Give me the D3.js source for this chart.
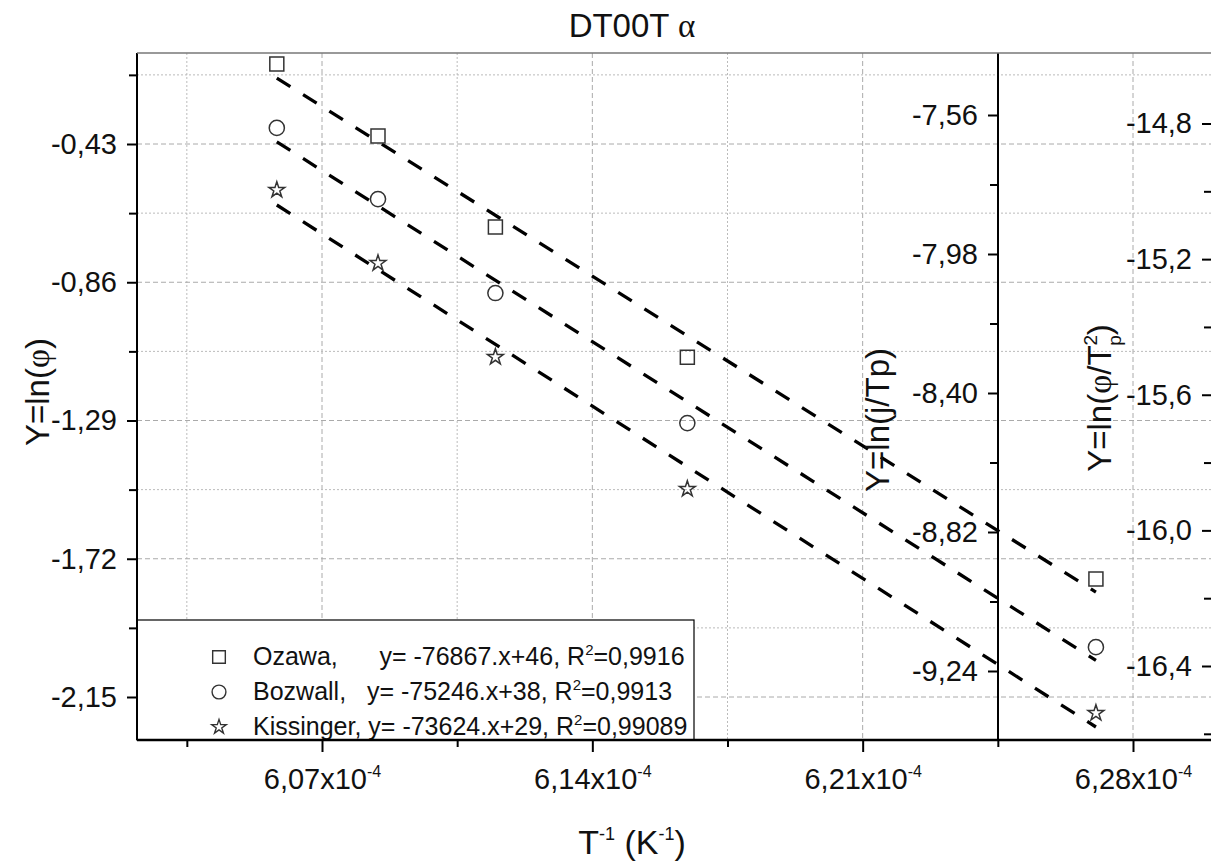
<!DOCTYPE html>
<html>
<head>
<meta charset="utf-8">
<script src="https://cdn.jsdelivr.net/npm/d3@7"></script>
<style>
  body { margin: 0; background: #fff; }
  text { font-family: "Liberation Sans", Arial, sans-serif; fill: #111; }
</style>
</head>
<body>
<div id="chart"></div>
<script>
// 데이터: x = 1/T, 세 가지 방법별 Y 값
var invT = [6.0583e-4, 6.0845e-4, 6.1149e-4, 6.1646e-4, 6.2704e-4];
var ozawa = [-0.181, -0.405, -0.688, -1.093, -1.783];        // ln(phi)
var bozwall = [-7.599, -7.814, -8.098, -8.491, -9.168];      // ln(phi/Tp)
var kissinger = [-14.996, -15.212, -15.489, -15.878, -16.539]; // ln(phi/Tp^2)

var seriesNames = ["Ozawa,      ", "Bozwall,   ", "Kissinger, "];
var slopes = ["-76867", "-75246", "-73624"];
var intercepts = ["46", "38", "29"];
var r2 = ["0,9916", "0,9913", "0,99089"];

// 눈금 값
var xMajor = [6.07e-4, 6.14e-4, 6.21e-4, 6.28e-4];
var xMinor = [6.035e-4, 6.105e-4, 6.175e-4, 6.245e-4];
var yPhiMajor = [-0.43, -0.86, -1.29, -1.72, -2.15];
var yPhiMinor = [-0.215, -0.645, -1.075, -1.505, -1.935];
var yTpMajor = [-7.56, -7.98, -8.40, -8.82, -9.24];
var yTpMinor = [-7.77, -8.19, -8.61, -9.03];
var yTp2Major = [-14.8, -15.2, -15.6, -16.0, -16.4];
var yTp2Minor = [-15.0, -15.4, -15.8, -16.2, -16.6];

var W = 1211, H = 868;
var plotL = 137, plotT = 53, plotB = 740, plotR = 1212;
var midAxisX = 998;

var svg = d3.select("#chart").append("svg")
    .attr("width", W)
    .attr("height", H);

// 스케일
var xScale = d3.scaleLinear().domain([6.07e-4, 6.28e-4]).range([322, 1133]);
xScale.domain([xScale.invert(plotL), xScale.invert(plotR)]).range([plotL, plotR]);

function vScale(v0, v1, p0, p1) {
    var s = d3.scaleLinear().domain([v0, v1]).range([p0, p1]);
    s.domain([s.invert(plotT), s.invert(plotB)]).range([plotT, plotB]);
    return s;
}
var yPhi = vScale(-0.43, -2.15, 144, 697);
var yTp = vScale(-7.56, -9.24, 115, 671);
var yTp2 = vScale(-14.8, -16.4, 123.5, 666);

// 그리드
var grid = svg.append("g");
grid.selectAll(".vmaj").data(xMajor).enter().append("line")
    .attr("x1", function(d) { return xScale(d); }).attr("x2", function(d) { return xScale(d); })
    .attr("y1", plotT).attr("y2", plotB)
    .attr("stroke", "#aaa").attr("stroke-width", 1).attr("stroke-dasharray", "5,3");
grid.selectAll(".vmin").data(xMinor).enter().append("line")
    .attr("x1", function(d) { return xScale(d); }).attr("x2", function(d) { return xScale(d); })
    .attr("y1", plotT).attr("y2", plotB)
    .attr("stroke", "#bbb").attr("stroke-width", 1).attr("stroke-dasharray", "2,2");
grid.selectAll(".hmaj").data(yPhiMajor).enter().append("line")
    .attr("x1", plotL).attr("x2", W)
    .attr("y1", function(d) { return yPhi(d); }).attr("y2", function(d) { return yPhi(d); })
    .attr("stroke", "#aaa").attr("stroke-width", 1).attr("stroke-dasharray", "5,3");
grid.selectAll(".hmin").data(yPhiMinor).enter().append("line")
    .attr("x1", plotL).attr("x2", W)
    .attr("y1", function(d) { return yPhi(d); }).attr("y2", function(d) { return yPhi(d); })
    .attr("stroke", "#bbb").attr("stroke-width", 1).attr("stroke-dasharray", "2,2");

// 선형 회귀 (최소제곱)
function fit(xs, ys) {
    var mx = d3.mean(xs), my = d3.mean(ys);
    var sxy = d3.sum(xs, function(x, i) { return (x - mx) * (ys[i] - my); });
    var sxx = d3.sum(xs, function(x) { return (x - mx) * (x - mx); });
    var b = sxy / sxx;
    return function(x) { return my + b * (x - mx); };
}

var series = [
    { values: ozawa, y: yPhi, symbol: d3.symbolSquare, size: 196 },
    { values: bozwall, y: yTp, symbol: d3.symbolCircle, size: 180 },
    { values: kissinger, y: yTp2, symbol: d3.symbolStar, size: 78 }
];

series.forEach(function(s) {
    var f = fit(invT, s.values);
    var ends = [d3.min(invT), d3.max(invT)];
    var line = d3.line()
        .x(function(d) { return xScale(d); })
        .y(function(d) { return s.y(f(d)); });
    svg.append("path")
        .datum(ends)
        .attr("d", line)
        .attr("fill", "none")
        .attr("stroke", "#000")
        .attr("stroke-width", 3.3)
        .attr("stroke-dasharray", "16,15");

    svg.selectAll(null)
        .data(s.values)
        .enter()
        .append("path")
        .attr("d", d3.symbol().type(s.symbol).size(s.size))
        .attr("transform", function(d, i) {
            return "translate(" + xScale(invT[i]) + "," + s.y(d) + ")";
        })
        .attr("fill", "none")
        .attr("stroke", "#333")
        .attr("stroke-width", 1.5);
});

// 범례
var lg = svg.append("g");
lg.append("rect")
    .attr("x", plotL).attr("y", 620)
    .attr("width", 694 - plotL).attr("height", plotB - 620)
    .attr("fill", "#fff").attr("stroke", "#000").attr("stroke-width", 1.2);
var legendSymbols = [d3.symbolSquare, d3.symbolCircle, d3.symbolStar];
var legendSizes = [160, 150, 65];
seriesNames.forEach(function(name, i) {
    var yy = 665 + i * 35;
    lg.append("path")
        .attr("d", d3.symbol().type(legendSymbols[i]).size(legendSizes[i]))
        .attr("transform", "translate(219," + (yy - 8) + ")")
        .attr("fill", "none").attr("stroke", "#333").attr("stroke-width", 1.4);
    var t = lg.append("text")
        .attr("x", 253).attr("y", yy)
        .attr("font-size", 25)
        .attr("xml:space", "preserve")
        .style("white-space", "pre");
    t.append("tspan").text(name + "y= " + slopes[i] + ".x+" + intercepts[i] + ", R");
    t.append("tspan").attr("font-size", 15).attr("dy", -10).text("2");
    t.append("tspan").attr("dy", 10).text("=" + r2[i]);
});

// 축
function fmtComma(n) { return function(d) { return d.toFixed(n).replace(".", ","); }; }

function leftAxis(x, scale, major, minor, digits) {
    var g = svg.append("g").attr("transform", "translate(" + x + ",0)");
    g.call(d3.axisLeft(scale).tickValues(major).tickSize(10).tickPadding(10).tickFormat(fmtComma(digits)));
    g.append("g").call(d3.axisLeft(scale).tickValues(minor).tickSize(8).tickFormat(""));
    g.selectAll(".domain").remove();
    g.selectAll(".tick line").attr("stroke", "#000").attr("stroke-width", 2);
    g.selectAll(".tick text").attr("font-size", 29).attr("font-family", "Liberation Sans, Arial, sans-serif").attr("fill", "#111");
    g.append("line").attr("x1", 0).attr("x2", 0).attr("y1", plotT).attr("y2", plotB)
        .attr("stroke", "#000").attr("stroke-width", 2);
    return g;
}
leftAxis(plotL, yPhi, yPhiMajor, yPhiMinor, 2);
leftAxis(midAxisX, yTp, yTpMajor, yTpMinor, 2);
leftAxis(plotR, yTp2, yTp2Major, yTp2Minor, 1);

// 위쪽 테두리
svg.append("line").attr("x1", plotL).attr("x2", W).attr("y1", plotT).attr("y2", plotT)
    .attr("stroke", "#777").attr("stroke-width", 1.5);

// 아래 x축
var gx = svg.append("g").attr("transform", "translate(0," + plotB + ")");
gx.call(d3.axisBottom(xScale).tickValues(xMajor).tickSize(12).tickPadding(18).tickFormat(""));
gx.append("g").call(d3.axisBottom(xScale).tickValues(xMinor).tickSize(7).tickFormat(""));
gx.selectAll(".domain").remove();
gx.selectAll(".tick line").attr("stroke", "#000").attr("stroke-width", 2);
gx.append("line").attr("x1", plotL).attr("x2", W).attr("y1", 0).attr("y2", 0)
    .attr("stroke", "#000").attr("stroke-width", 2.5);
gx.selectAll(".tick text")
    .filter(function(d) { return xMajor.indexOf(d) >= 0; })
    .attr("font-size", 29).attr("font-family", "Liberation Sans, Arial, sans-serif").attr("fill", "#111")
    .attr("dy", null).attr("y", 49)
    .each(function(d) {
        var t = d3.select(this);
        t.append("tspan").text((d * 1e4).toFixed(2).replace(".", ",") + "x10");
        t.append("tspan").attr("font-size", 16).attr("dy", -12).text("-4");
    });

// 제목과 축 제목
var title = svg.append("text").attr("x", 632).attr("y", 37)
    .attr("text-anchor", "middle").attr("font-size", 33);
title.append("tspan").text("DT00T ");
title.append("tspan").attr("font-family", "Liberation Serif, serif").text("α");

var xt = svg.append("text").attr("x", 632).attr("y", 854)
    .attr("text-anchor", "middle").attr("font-size", 34);
xt.append("tspan").text("T");
xt.append("tspan").attr("font-size", 18).attr("dy", -14).text("-1");
xt.append("tspan").attr("dy", 14).text(" (K");
xt.append("tspan").attr("font-size", 18).attr("dy", -14).text("-1");
xt.append("tspan").attr("dy", 14).text(")");

var yt1 = svg.append("text").attr("transform", "translate(49,392) rotate(-90)")
    .attr("text-anchor", "middle").attr("font-size", 33);
yt1.append("tspan").text("Y=ln(");
yt1.append("tspan").attr("font-family", "Liberation Serif, serif").text("φ");
yt1.append("tspan").text(")");

svg.append("text").attr("transform", "translate(889,420) rotate(-90)")
    .attr("text-anchor", "middle").attr("font-size", 33)
    .text("Y=ln(j/Tp)");

var yt3 = svg.append("text").attr("transform", "translate(1111,398) rotate(-90)")
    .attr("text-anchor", "middle").attr("font-size", 33);
yt3.append("tspan").text("Y=ln(");
yt3.append("tspan").attr("font-family", "Liberation Serif, serif").text("φ");
yt3.append("tspan").text("/T");
yt3.append("tspan").attr("font-size", 19).attr("dy", -14).text("2");
yt3.append("tspan").attr("font-size", 19).attr("dx", -11).attr("dy", 24).text("p");
yt3.append("tspan").attr("dy", -10).text(")");
</script>
</body>
</html>
